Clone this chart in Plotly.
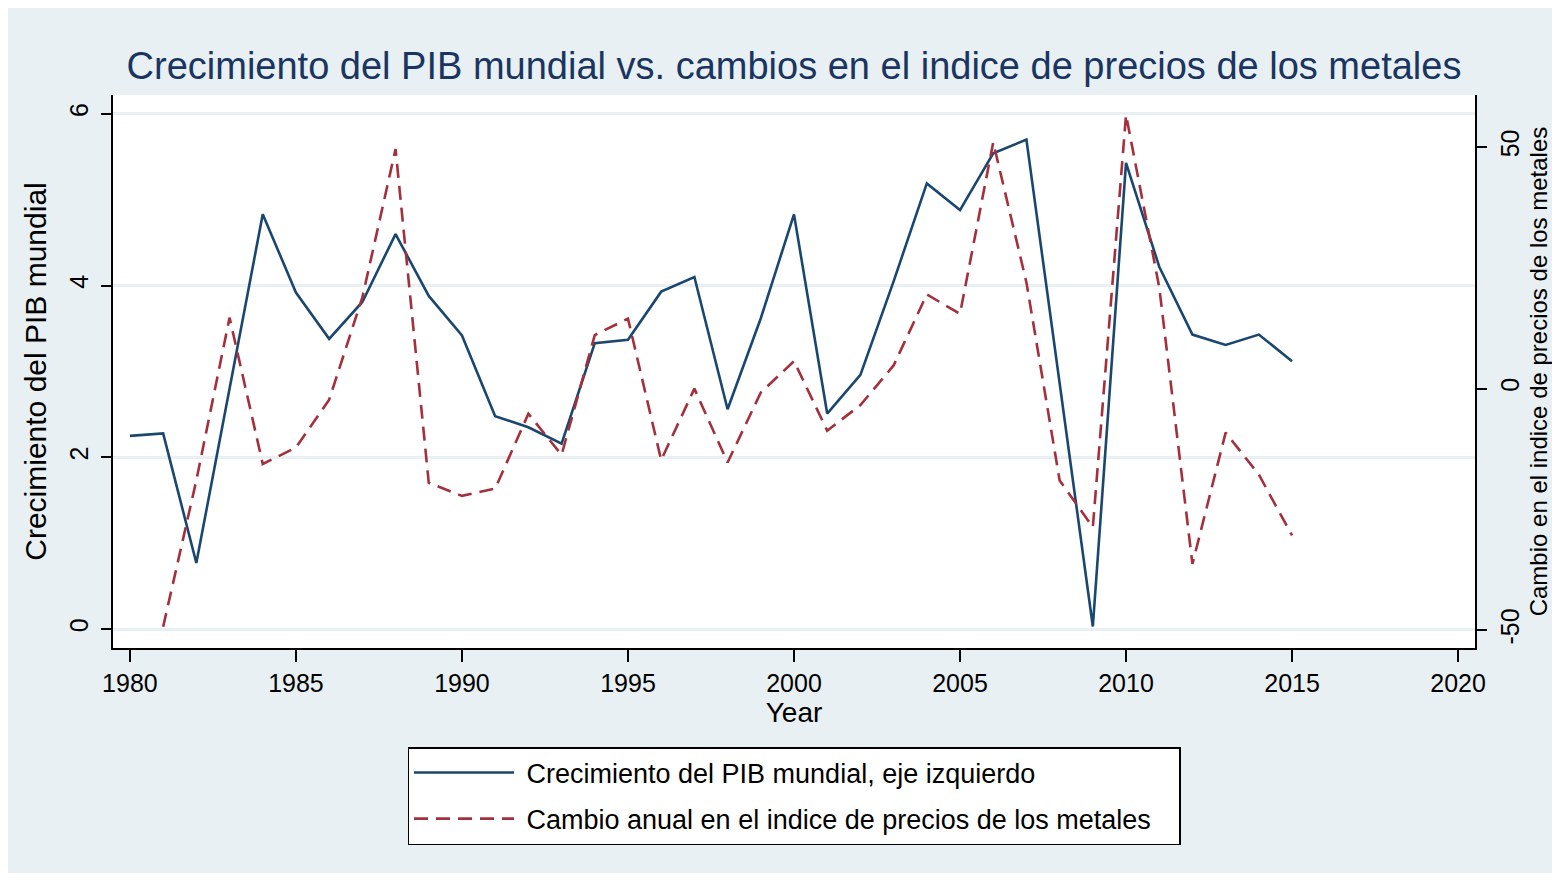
import plotly.graph_objects as go

# data
years = list(range(1980, 2016))

pib_mundial = [2.25, 2.28, 0.77, 2.80, 4.83, 3.92, 3.38, 3.81, 4.60, 3.88,
               3.42, 2.48, 2.35, 2.16, 3.33, 3.37, 3.93, 4.10, 2.56, 3.62,
               4.83, 2.51, 2.96, 4.05, 5.19, 4.88, 5.54, 5.70, 2.87, 0.03,
               5.43, 4.22, 3.43, 3.31, 3.43, 3.12]

# no value for 1980
metales = [None, -49.3, -19.0, 14.7, -15.6, -12.2, -2.3, 18.9, 49.6, -19.5,
           -22.2, -20.7, -5.2, -13.7, 11.1, 14.5, -14.8, 0.0, -15.3, -0.8,
           5.7, -8.7, -3.4, 4.8, 19.5, 15.5, 51.0, 22.0, -19.0, -28.7,
           56.7, 21.0, -36.3, -9.1, -17.8, -30.4]

x_ticks = [1980, 1985, 1990, 1995, 2000, 2005, 2010, 2015, 2020]
y_ticks = [0, 2, 4, 6]
y2_ticks = [-50, 0, 50]
y2_labels = ["-50", "0", "50"]

title = "Crecimiento del PIB mundial vs. cambios en el indice de precios de los metales"
name_pib = "Crecimiento del PIB mundial, eje izquierdo"
name_met = "Cambio anual en el indice de precios de los metales"

bg = "#E8F0F3"
navy = "#1A476F"
maroon = "#A3303C"
fnt = "Liberation Sans, Arial, sans-serif"
nb = "\u00a0"

W, H = 1544, 865

fig = go.Figure()
fig.add_trace(go.Scatter(x=years, y=pib_mundial, name=nb + name_pib + nb * 2,
                         mode="lines", legendgroup="a",
                         line=dict(color=navy, width=2.6)))
fig.add_trace(go.Scatter(x=years, y=metales, name=nb + name_met + nb * 3,
                         mode="lines", legendgroup="b",
                         yaxis="y2", connectgaps=False,
                         line=dict(color=maroon, width=2.6, dash="14px,8px")))

fig.update_layout(
    width=W, height=H,
    margin=dict(l=105, r=77, t=87, b=225),
    paper_bgcolor=bg,
    plot_bgcolor="white",
    font=dict(family=fnt, color="black", size=25),
    title=dict(text=title, x=0.5, xref="paper", xanchor="center",
               y=1 - 58 / H, yanchor="middle",
               font=dict(size=38, color="#1A3561")),
    xaxis=dict(range=[1979.49, 2020.51], tickvals=x_ticks, automargin=False,
               showgrid=False, zeroline=False,
               showline=True, linecolor="black", linewidth=1.6,
               ticks="outside", ticklen=12, tickwidth=1.6, tickcolor="black",
               tickfont=dict(size=25),
               title=dict(text="Year", font=dict(size=28), standoff=6)),
    yaxis=dict(range=[-0.22, 6.22], tickvals=y_ticks, tickangle=-90,
               automargin=False,
               showgrid=True, gridcolor=bg, gridwidth=2.5, zeroline=False,
               showline=True, linecolor="black", linewidth=1.6,
               ticks="outside", ticklen=10, tickwidth=1.6, tickcolor="black",
               tickfont=dict(size=25), ticklabelstandoff=3,
               title=dict(text="Crecimiento del PIB mundial", font=dict(size=30),
                          standoff=10)),
    yaxis2=dict(range=[-53.7, 60.8], tickvals=y2_ticks, ticktext=y2_labels,
                tickangle=-90, automargin=False,
                overlaying="y", side="right", anchor="x",
                showgrid=False, zeroline=False,
                showline=True, linecolor="black", linewidth=1.6,
                ticks="outside", ticklen=10, tickwidth=1.6, tickcolor="black",
                tickfont=dict(size=25), ticklabelstandoff=2,
                title=dict(text="Cambio en el indice de precios de los metales",
                           font=dict(size=24), standoff=14)),
    legend=dict(x=0.5, xanchor="center", y=(640 - 739) / 553, yanchor="top",
                bgcolor="white", bordercolor="black", borderwidth=1.5,
                font=dict(size=27), itemwidth=100, tracegroupgap=8),
)

fig.write_html("out.html")
